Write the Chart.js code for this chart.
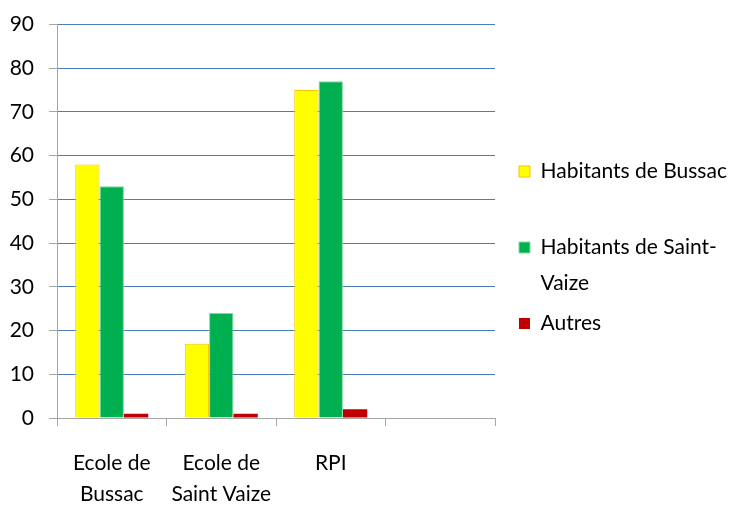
<!DOCTYPE html>
<html>
<head>
<meta charset="utf-8">
<script src="https://cdn.jsdelivr.net/npm/chart.js"></script>
<style>
  html, body { margin: 0; padding: 0; background: #fff; }
  #wrap { width: 731px; height: 505px; }
</style>
</head>
<body>
<div id="wrap"><canvas id="ecoles"></canvas></div>
<script>
  // data
  var categories = [['Ecole de', 'Bussac'], ['Ecole de', 'Saint Vaize'], 'RPI', ''];
  var bussac = [58, 17, 75, null];
  var saintVaize = [53, 24, 77, null];
  var autres = [1, 1, 2, null];
  var seriesNames = [['Habitants de Bussac', ''], ['Habitants de Saint-', 'Vaize'], 'Autres'];

  // legend sizing is off with multi-line labels, so fix its width and nudge it
  var legendTweak = {
    id: 'legendTweak',
    afterInit: function (chart) {
      var lg = chart.legend;
      var fit = lg.fit;
      lg.fit = function () {
        fit.call(this);
        this.width = 236;
      };
    },
    afterLayout: function (chart) {
      chart.legend.left += 20;
      chart.legend.top -= 5;
      chart.legend.bottom -= 5;
    }
  };

  new Chart('ecoles', {
    type: 'bar',
    data: {
      labels: categories,
      datasets: [{
        label: seriesNames[0],
        data: bussac,
        backgroundColor: '#FFFF00',
        borderColor: '#F7C400',
        borderWidth: 1
      }, {
        label: seriesNames[1],
        data: saintVaize,
        backgroundColor: '#00B050',
        borderColor: '#7FD9A0',
        borderWidth: 1
      }, {
        label: seriesNames[2],
        data: autres,
        backgroundColor: '#C00000',
        borderColor: '#C00000',
        borderWidth: 0
      }]
    },
    options: {
      responsive: true,
      maintainAspectRatio: false,
      animation: false,
      layout: { padding: { left: 0, top: 0, right: 0, bottom: 0 } },
      datasets: {
        bar: { categoryPercentage: 0.667, barPercentage: 1 }
      },
      scales: {
        x: {
          afterFit: function (scale) { scale.height = 87; },
          grid: {
            drawOnChartArea: false,
            color: '#A6A6A6',
            tickLength: 8
          },
          border: { color: '#A6A6A6' },
          ticks: {
            color: '#000',
            font: { family: 'Lato', size: 21, lineHeight: 1.5 },
            padding: 21,
            maxRotation: 0,
            autoSkip: false
          }
        },
        y: {
          min: 0,
          max: 90,
          afterFit: function (scale) {
            scale.width = 57;
            scale.paddingTop = 24.5;
          },
          ticks: {
            stepSize: 10,
            color: '#000',
            font: { family: 'Lato', size: 21, lineHeight: 1 },
            padding: 15
          },
          grid: {
            color: '#4A7EBB',
            tickColor: '#A6A6A6',
            tickLength: 8
          },
          border: { color: '#A6A6A6' }
        }
      },
      plugins: {
        legend: {
          position: 'right',
          labels: {
            color: '#000',
            font: { family: 'Lato', size: 21, lineHeight: 1.714 },
            boxWidth: 11,
            boxHeight: 11,
            padding: 4
          }
        },
        tooltip: { enabled: false }
      }
    },
    plugins: [legendTweak]
  });
</script>
</body>
</html>
